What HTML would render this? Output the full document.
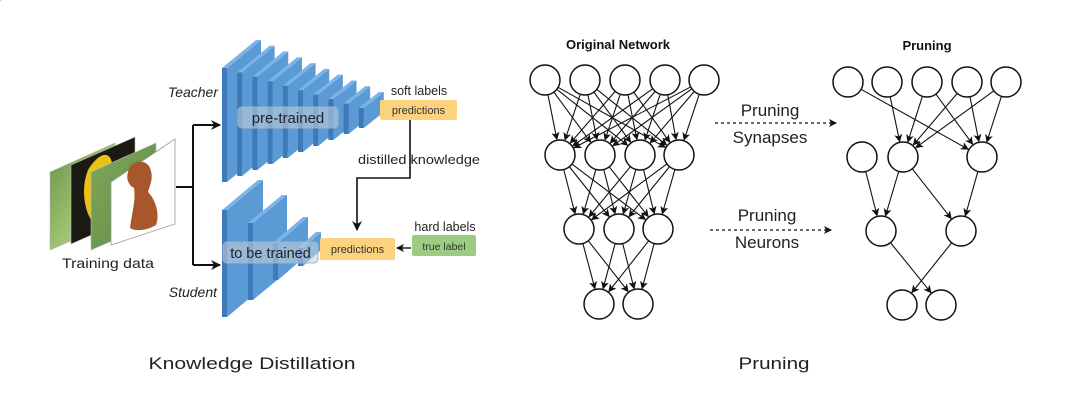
<!DOCTYPE html>
<html><head><meta charset="utf-8"><style>
html,body{margin:0;padding:0;background:#fff;}
svg{display:block;font-family:"Liberation Sans",sans-serif;}
</style></head><body>
<svg id="s" width="1080" height="413" viewBox="0 0 1080 413" xmlns="http://www.w3.org/2000/svg">
<defs>
<marker id="ah" markerWidth="10" markerHeight="10" refX="9" refY="5" orient="auto" markerUnits="userSpaceOnUse"><path d="M0,0 L10,5 L0,10 L3,5 z" fill="#111"/></marker>
<marker id="as" markerWidth="8" markerHeight="8" refX="7" refY="4" orient="auto" markerUnits="userSpaceOnUse"><path d="M0,0 L8,4 L0,8 L2,4 z" fill="#111"/></marker>
<linearGradient id="g1" x1="0" y1="0" x2="1" y2="1"><stop offset="0" stop-color="#6a8f4a"/><stop offset="0.5" stop-color="#9bbf6e"/><stop offset="1" stop-color="#d8d8d0"/></linearGradient>
<linearGradient id="g3" x1="0" y1="0" x2="1" y2="1"><stop offset="0" stop-color="#7fa85a"/><stop offset="1" stop-color="#5f8a45"/></linearGradient>
</defs>
<g id="slabs"></g>
<!-- training images -->
<polygon points="50,172 115,143 115,222 50,250" fill="url(#g1)" stroke="#bbb" stroke-width="0.6"/>
<polygon points="71,165 135,137 135,216 71,244" fill="#1a1a12" stroke="#bbb" stroke-width="0.6"/>
<path d="M88,170 C100,150 115,148 112,175 C120,190 108,215 95,225 C85,215 80,190 88,170z" fill="#e8c315"/>
<polygon points="91,172 156,143 156,222 91,250" fill="url(#g3)" stroke="#bbb" stroke-width="0.6"/>
<polygon points="111,182 175,139 175,224 111,245" fill="#fff" stroke="#999" stroke-width="0.8"/>
<path d="M128,172 C130,160 146,158 150,168 C154,178 150,185 148,192 C156,200 160,215 156,225 C148,230 136,232 130,228 C132,212 136,200 134,188 C128,185 126,178 128,172z" fill="#a8572c"/>
<text x="108" y="268" font-size="14" text-anchor="middle" fill="#222" textLength="92" lengthAdjust="spacingAndGlyphs">Training data</text>
<!-- branch -->
<path d="M176,187 H193 M193,125 V265" stroke="#111" stroke-width="2" fill="none"/>
<path d="M193,125 H220" stroke="#111" stroke-width="2" marker-end="url(#ah)"/>
<path d="M193,265 H220" stroke="#111" stroke-width="2" marker-end="url(#ah)"/>
<text x="218" y="97" font-size="14" font-style="italic" text-anchor="end" fill="#222">Teacher</text>
<text x="217" y="297" font-size="14" font-style="italic" text-anchor="end" fill="#222">Student</text>
<g id="labels"></g>
<text x="419" y="95" font-size="12.5" text-anchor="middle" fill="#222">soft labels</text>
<rect x="380" y="100" width="77" height="20" rx="2" fill="#fcd27e"/>
<text x="418.5" y="114" font-size="11" text-anchor="middle" fill="#333">predictions</text>
<path d="M410,120 V178 H357 V230" stroke="#111" stroke-width="1.6" fill="none" marker-end="url(#ah)"/>
<text x="419" y="164" font-size="12.5" text-anchor="middle" fill="#222" textLength="122" lengthAdjust="spacingAndGlyphs">distilled knowledge</text>
<rect x="320" y="238" width="75" height="22" rx="2" fill="#fcd27e"/>
<text x="357.5" y="253" font-size="11" text-anchor="middle" fill="#333">predictions</text>
<text x="445" y="231" font-size="12.5" text-anchor="middle" fill="#222">hard labels</text>
<rect x="412" y="235" width="64" height="21" rx="2" fill="#9bcc82"/>
<text x="444" y="250" font-size="10.5" text-anchor="middle" fill="#333">true label</text>
<path d="M411,248 H397" stroke="#111" stroke-width="1.4" marker-end="url(#as)"/>
<text x="252" y="369" font-size="17" text-anchor="middle" fill="#222" textLength="207" lengthAdjust="spacingAndGlyphs">Knowledge Distillation</text>
<text x="774" y="369" font-size="17" text-anchor="middle" fill="#222" textLength="71" lengthAdjust="spacingAndGlyphs">Pruning</text>
<!-- pruning -->
<text x="618" y="49" font-size="13" font-weight="bold" text-anchor="middle" fill="#111">Original Network</text>
<text x="927" y="50" font-size="13" font-weight="bold" text-anchor="middle" fill="#111">Pruning</text>
<g id="net"></g>
<text x="770" y="116" font-size="17" text-anchor="middle" fill="#222">Pruning</text>
<text x="770" y="143" font-size="17" text-anchor="middle" fill="#222">Synapses</text>
<path d="M715,123 H836" stroke="#111" stroke-width="1.2" stroke-dasharray="3,3" marker-end="url(#as)"/>
<text x="767" y="221" font-size="17" text-anchor="middle" fill="#222">Pruning</text>
<text x="767" y="248" font-size="17" text-anchor="middle" fill="#222">Neurons</text>
<path d="M710,230 H831" stroke="#111" stroke-width="1.2" stroke-dasharray="3,3" marker-end="url(#as)"/>
</svg>
<script>
var NS="http://www.w3.org/2000/svg";
function el(p,t,a){var e=document.createElementNS(NS,t);for(var k in a)e.setAttribute(k,a[k]);p.appendChild(e);return e;}
var sl=document.getElementById("slabs");
function slab(x,t,b,d,r){
 var w=5;
 el(sl,"polygon",{points:(x+w)+","+t+" "+(x+w+d)+","+(t-r)+" "+(x+w+d)+","+(b-r)+" "+(x+w)+","+b,fill:"#5b9bd5"});
 el(sl,"polygon",{points:x+","+t+" "+(x+w)+","+t+" "+(x+w+d)+","+(t-r)+" "+(x+d)+","+(t-r),fill:"#7db3e6"});
 el(sl,"rect",{x:x,y:t,width:w,height:b-t,fill:"#3f78bb"});
}
for(var i=0;i<10;i++){
 var f=i/9;
 slab(222+i*15.2,68+40*f,182-54*f,34-14*f,28-12*f);
}
var st=[[222,210,317,36,30],[248,223,300,34,28],[273,243,280,30,26],[298,248,266,18,16]];
st.forEach(function(s){slab(s[0],s[1],s[2],s[3],s[4]);});
var lb=document.getElementById("labels");
el(lb,"rect",{x:238,y:107,width:100,height:21,rx:4,fill:"rgba(200,210,220,0.55)",stroke:"#9fb3c8","stroke-width":1});
var t1=el(lb,"text",{x:288,y:123,"font-size":15,"text-anchor":"middle",fill:"#222"});t1.textContent="pre-trained";
el(lb,"rect",{x:223,y:242,width:95,height:21,rx:4,fill:"rgba(200,210,220,0.55)",stroke:"#9fb3c8","stroke-width":1});
var t2=el(lb,"text",{x:270.5,y:258,"font-size":14.5,"text-anchor":"middle",fill:"#222"});t2.textContent="to be trained";
var net=document.getElementById("net");var R=15;
function line(a,b){var dx=b[0]-a[0],dy=b[1]-a[1],L=Math.sqrt(dx*dx+dy*dy);
 el(net,"line",{x1:a[0]+dx/L*R,y1:a[1]+dy/L*R,x2:b[0]-dx/L*(R+1),y2:b[1]-dy/L*(R+1),stroke:"#111","stroke-width":1.1,"marker-end":"url(#as)"});}
function circ(p){el(net,"circle",{cx:p[0],cy:p[1],r:R,fill:"#fff",stroke:"#111","stroke-width":1.5});}
var L=[[545,585,625,665,704].map(function(x){return[x,80]}),[560,600,640,679].map(function(x){return[x,155]}),[579,619,658].map(function(x){return[x,229]}),[599,638].map(function(x){return[x,304]})];
for(var l=0;l<3;l++)L[l].forEach(function(a){L[l+1].forEach(function(b){line(a,b);});});
L.forEach(function(ly){ly.forEach(circ);});
var P=[[848,887,927,967,1006].map(function(x){return[x,82]}),[862,903,982].map(function(x){return[x,157]}),[881,961].map(function(x){return[x,231]}),[902,941].map(function(x){return[x,305]})];
var E=[[0,0,0,0],[0,0,1,2],[0,1,1,1],[0,2,1,1],[0,2,1,2],[0,3,1,1],[0,3,1,2],[0,4,1,1],[0,4,1,2],[1,0,2,0],[1,1,2,0],[1,1,2,1],[1,2,2,1],[2,0,3,1],[2,1,3,0]];
E.forEach(function(e){line(P[e[0]][e[1]],P[e[2]][e[3]]);});
P.forEach(function(ly){ly.forEach(circ);});
</script>
</body></html>
